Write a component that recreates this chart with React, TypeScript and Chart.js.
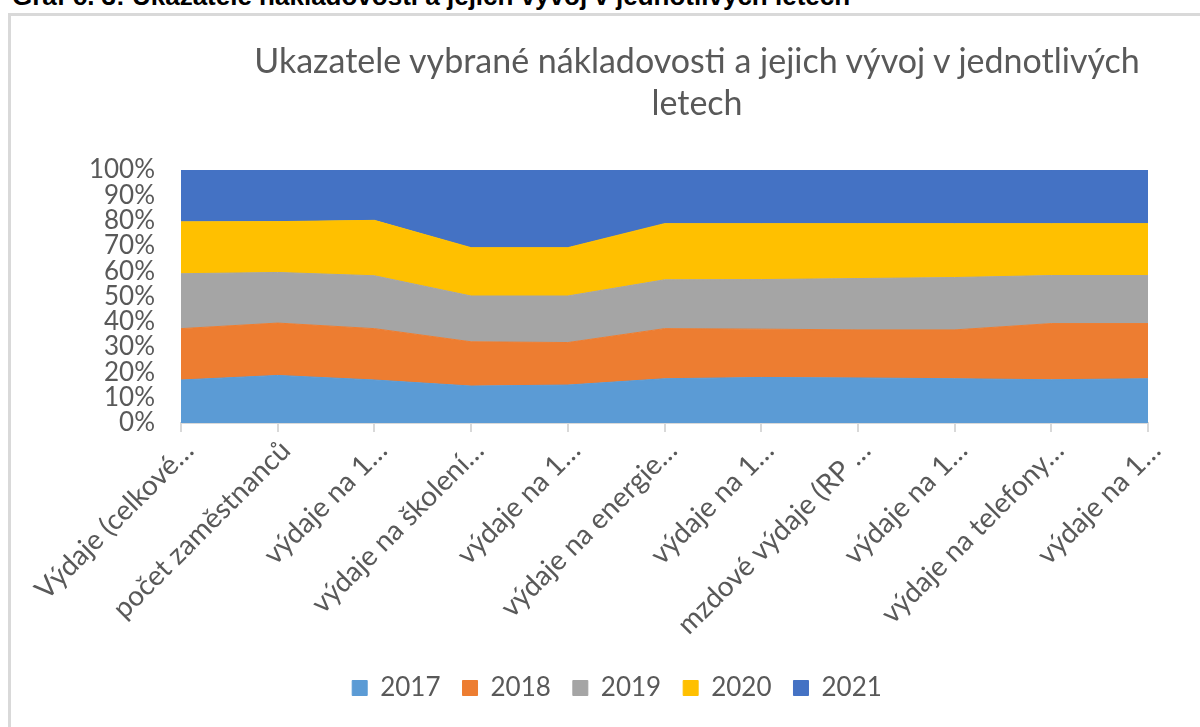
import React, { useEffect, useRef } from "react";
import { Chart, registerables } from "chart.js";

Chart.register(...registerables);

const categories = [
  "Výdaje (celkové…",
  "počet zaměstnanců",
  "výdaje na 1…",
  "výdaje na školení…",
  "výdaje na 1…",
  "výdaje na energie…",
  "výdaje na 1…",
  "mzdové výdaje (RP …",
  "výdaje na 1…",
  "výdaje na telefony…",
  "výdaje na 1…",
];

const years = ["2017", "2018", "2019", "2020", "2021"];

const v2017 = [17.0, 18.8, 17.0, 14.6, 15.0, 17.5, 18.0, 17.8, 17.5, 17.1, 17.5];
const v2018 = [20.3, 20.7, 20.3, 17.5, 16.8, 19.8, 19.1, 19.0, 19.3, 22.2, 21.8];
const v2019 = [21.7, 20.0, 20.9, 18.1, 18.4, 19.3, 19.6, 20.3, 20.7, 19.0, 19.0];
const v2020 = [20.5, 20.1, 21.9, 19.1, 19.1, 22.2, 22.1, 21.7, 21.3, 20.5, 20.5];
const v2021 = [20.5, 20.4, 19.9, 30.7, 30.7, 21.2, 21.2, 21.2, 21.2, 21.2, 21.2];

const yTicks = [0, 10, 20, 30, 40, 50, 60, 70, 80, 90, 100];

const colors = ["#5B9BD5", "#ED7D31", "#A5A5A5", "#FFC000", "#4472C4"];

const titleLines = [
  "Ukazatele vybrané nákladovosti a jejich vývoj v jednotlivých",
  "letech",
];
const headerText =
  "Graf č. 3: Ukazatele nákladovosti a jejich vývoj v jednotlivých letech";

const FONT = "Lato, 'Open Sans', sans-serif";
const TEXT = "#595959";

export default function App() {
  const ref = useRef<HTMLCanvasElement | null>(null);

  useEffect(() => {
    if (!ref.current) return;
    const series = [v2017, v2018, v2019, v2020, v2021];
    const chart = new Chart(ref.current, {
      type: "line",
      data: {
        labels: categories,
        datasets: series.map((d, i) => ({
          label: years[i],
          data: d,
          backgroundColor: colors[i],
          borderColor: colors[i],
          borderWidth: 1,
          fill: i === 0 ? "origin" : "-1",
          pointRadius: 0,
          tension: 0,
        })),
      },
      options: {
        responsive: false,
        animation: false,
        devicePixelRatio: 1,
        layout: { padding: { top: 154, right: 75, bottom: 16, left: 75 } },
        plugins: {
          title: { display: false },
          tooltip: { enabled: false },
          legend: {
            position: "bottom",
            labels: {
              boxWidth: 15,
              boxHeight: 15,
              padding: 22,
              color: TEXT,
              font: { family: FONT, size: 26 },
            },
          },
        },
        scales: {
          x: {
            offset: false,
            grid: {
              display: true,
              drawOnChartArea: false,
              drawTicks: true,
              tickLength: 9,
              color: "#d9d9d9",
              lineWidth: 2,
            },
            border: { display: true, color: "#d9d9d9", width: 2 },
            ticks: {
              autoSkip: false,
              maxRotation: 45,
              minRotation: 45,
              color: TEXT,
              padding: 2,
              labelOffset: 8,
              font: { family: FONT, size: 28 },
            },
            afterFit: (s: any) => {
              s.height = 230;
            },
          },
          y: {
            stacked: true,
            min: 0,
            max: 100,
            afterBuildTicks: (s: any) => {
              s.ticks = yTicks.map((v) => ({ value: v }));
            },
            grid: { color: "#d9d9d9", drawTicks: false },
            border: { display: false },
            ticks: {
              autoSkip: false,
              padding: 26,
              color: TEXT,
              font: { family: FONT, size: 26 },
              callback: (v: any) => v + "%",
            },
            afterFit: (s: any) => {
              s.width = 95;
            },
          },
        },
      },
    });
    return () => chart.destroy();
  }, []);

  return (
    <div
      style={{
        position: "absolute",
        left: 0,
        top: 0,
        width: 1200,
        height: 727,
        overflow: "hidden",
        background: "#fff",
      }}
    >
      <div
        style={{
          position: "absolute",
          left: 12,
          top: -17,
          fontFamily: "'Liberation Sans', Arial, sans-serif",
          fontWeight: "bold",
          fontSize: 26,
          lineHeight: "26px",
          whiteSpace: "nowrap",
          color: "#000",
        }}
      >
        {headerText}
      </div>
      <div
        style={{
          position: "absolute",
          left: 8,
          top: 13,
          width: 1192,
          height: 714,
          borderLeft: "3px solid #d9d9d9",
          borderTop: "3px solid #d9d9d9",
          boxSizing: "border-box",
          background: "#fff",
        }}
      />
      <div
        style={{
          position: "absolute",
          left: 11,
          top: 16,
          width: 1189,
          height: 711,
          overflow: "hidden",
        }}
      >
        <canvas
          ref={ref}
          width={1212}
          height={711}
          style={{ display: "block", width: 1212, height: 711 }}
        />
      </div>
      <div
        style={{
          position: "absolute",
          left: 197,
          width: 1000,
          top: 39,
          textAlign: "center",
          fontFamily: FONT,
          fontSize: 34,
          lineHeight: "42px",
          color: TEXT,
        }}
      >
        <div style={{ whiteSpace: "nowrap" }}>{titleLines[0]}</div>
        <div>{titleLines[1]}</div>
      </div>
    </div>
  );
}
